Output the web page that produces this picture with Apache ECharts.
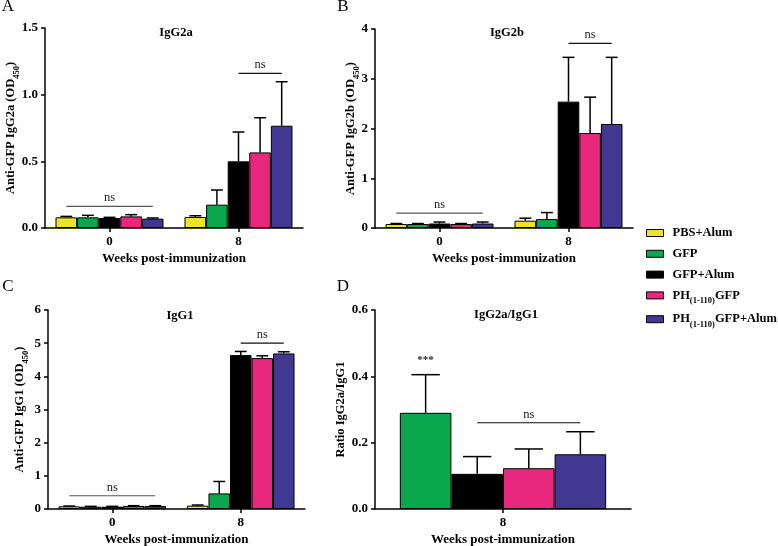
<!DOCTYPE html>
<html>
<head>
<meta charset="utf-8">
<script src="https://cdn.jsdelivr.net/npm/echarts@6/dist/echarts.min.js"></script>
<style>
  html, body { margin: 0; padding: 0; background: #fff; }
  #main { width: 778px; height: 546px; }
</style>
</head>
<body>
<div id="main"></div>
<script>
// categories
const weeks = ['0', '8']
const weeksD = ['8']
const groups = ['PBS+Alum', 'GFP', 'GFP+Alum', 'PH(1-110)GFP', 'PH(1-110)GFP+Alum']
const ratioGroups = ['GFP', 'GFP+Alum', 'PH(1-110)GFP', 'PH(1-110)GFP+Alum']

// per group: [week 0, week 8]
const igg2aMean = [[0.08, 0.083], [0.08, 0.175], [0.075, 0.50], [0.087, 0.567], [0.07, 0.767]]
const igg2aSd = [[0.007, 0.009], [0.015, 0.11], [0.005, 0.22], [0.013, 0.26], [0.005, 0.33]]
const igg2bMean = [[0.08, 0.147], [0.08, 0.18], [0.09, 2.54], [0.08, 1.91], [0.09, 2.09]]
const igg2bSd = [[0.01, 0.05], [0.01, 0.13], [0.03, 0.89], [0.01, 0.72], [0.03, 1.34]]
const igg1Mean = [[0.08, 0.10], [0.07, 0.47], [0.07, 4.64], [0.09, 4.55], [0.09, 4.69]]
const igg1Sd = [[0.01, 0.02], [0.01, 0.36], [0.01, 0.11], [0.01, 0.07], [0.01, 0.05]]
// week 8 only
const ratioMean = [0.29, 0.106, 0.123, 0.165]
const ratioSd = [0.115, 0.052, 0.058, 0.068]

// significance marks: [category, first bar, last bar, y, text]
const annotA = [[0, 0, 4, 0.162, 'ns'], [1, 2, 4, 1.16, 'ns']]
const annotB = [[0, 0, 4, 0.3, 'ns'], [1, 2, 4, 3.71, 'ns']]
const annotC = [[0, 0, 4, 0.4, 'ns'], [1, 2, 4, 5.0, 'ns']]
const annotD = [[0, 0, 0, 0.448, '***'], [0, 1, 3, 0.26, 'ns']]

const font = 'Liberation Serif'
const colors = ['#ece32a', '#0ba74c', '#000000', '#e8287c', '#433891']

const grids = [
  { left: 45, top: 28, width: 258, height: 200 },
  { left: 375, top: 29, width: 258, height: 199 },
  { left: 48, top: 310, width: 257, height: 199 },
  { left: 375, top: 310, width: 256, height: 199 }
]

const sub = { fontFamily: font, fontWeight: 'bold', fontSize: 8.5, verticalAlign: 'bottom', lineHeight: 10, padding: [0, 0, -3, 0] }

const xAxes = []
const yAxes = []
const series = []

function addPanel(idx, cats, names, cols, mean, sd, annot, ymax, step, digits, yName, nameGap, gap) {
  const n = names.length
  xAxes.push({
    type: 'category', gridIndex: idx, data: cats,
    name: 'Weeks post-immunization', nameLocation: 'middle', nameGap: 24,
    nameTextStyle: { fontFamily: font, fontWeight: 'bold', fontSize: 13, color: '#000' },
    axisLine: { show: true, lineStyle: { color: '#000', width: 1.5 } },
    axisTick: { show: true, alignWithLabel: true, length: 4, lineStyle: { color: '#000', width: 1.5 } },
    axisLabel: { fontFamily: font, fontWeight: 'bold', fontSize: 13, color: '#000', margin: 7 },
    splitLine: { show: false }
  })
  yAxes.push({
    type: 'value', gridIndex: idx, min: 0, max: ymax, interval: step,
    name: yName, nameLocation: 'middle', nameGap: nameGap, nameMoveOverlap: false,
    nameTextStyle: { fontFamily: font, fontWeight: 'bold', fontSize: 12.5, color: '#000', lineHeight: 14, rich: { sub: sub } },
    axisLine: { show: true, lineStyle: { color: '#000', width: 1.5 } },
    axisTick: { show: true, length: 4, lineStyle: { color: '#000', width: 1.5 } },
    axisLabel: { fontFamily: font, fontWeight: 'bold', fontSize: 13, color: '#000', margin: 7,
      formatter: v => v.toFixed(digits) },
    splitLine: { show: false }
  })
  const errData = []
  names.forEach((nm, k) => {
    const vals = Array.isArray(mean[k]) ? mean[k] : [mean[k]]
    const sds = Array.isArray(sd[k]) ? sd[k] : [sd[k]]
    vals.forEach((v, c) => errData.push([c, k, v, sds[c]]))
    series.push({
      type: 'bar', name: nm, xAxisIndex: idx, yAxisIndex: idx, data: vals,
      barGap: '0%', barCategoryGap: gap,
      itemStyle: { color: cols[k], borderColor: '#000', borderWidth: 1 },
      emphasis: { disabled: true }, z: 2
    })
  })
  const frac = 1 - parseFloat(gap) / 100
  // error bars (upper whisker only)
  series.push({
    type: 'custom', xAxisIndex: idx, yAxisIndex: idx, data: errData, z: 5,
    encode: { x: 0, y: 2 }, silent: true,
    renderItem: (params, api) => {
      const c = api.value(0), k = api.value(1), m = api.value(2), s = api.value(3)
      const p0 = api.coord([c, m])
      const p1 = api.coord([c, m + s])
      const bw = api.size([1, 0])[0] * frac / n
      const x = p0[0] + (k - (n - 1) / 2) * bw
      const cw = bw * 0.55
      const st = { stroke: '#000', lineWidth: 1.5 }
      return { type: 'group', children: [
        { type: 'line', shape: { x1: x, y1: p0[1], x2: x, y2: p1[1] }, style: st },
        { type: 'line', shape: { x1: x - cw / 2, y1: p1[1], x2: x + cw / 2, y2: p1[1] }, style: st }
      ] }
    }
  })
  // significance lines / labels
  series.push({
    type: 'custom', xAxisIndex: idx, yAxisIndex: idx, data: annot.map(a => a.slice(0, 4)), z: 6,
    encode: { x: 0, y: 3 }, silent: true,
    renderItem: (params, api) => {
      const a = annot[params.dataIndex]
      const p = api.coord([a[0], a[3]])
      const bw = api.size([1, 0])[0] * frac / n
      const x1 = p[0] + (a[1] - (n - 1) / 2) * bw
      const x2 = p[0] + (a[2] - (n - 1) / 2) * bw
      const stars = a[4] !== 'ns'
      const children = [{
        type: 'text', x: (x1 + x2) / 2, y: stars ? p[1] : p[1] - 2,
        style: { text: a[4], textAlign: 'center', textVerticalAlign: stars ? 'middle' : 'bottom',
          fontFamily: font, fontSize: stars ? 11 : 12.5, fontWeight: stars ? 'bold' : 'normal', fill: '#222' }
      }]
      if (x2 > x1) {
        children.push({ type: 'line', shape: { x1: x1, y1: p[1], x2: x2, y2: p[1] },
          style: { stroke: a[0] === 0 && a[2] === 4 ? '#555' : '#111', lineWidth: 1.2 } })
      }
      return { type: 'group', children: children }
    }
  })
}

addPanel(0, weeks, groups, colors, igg2aMean, igg2aSd, annotA, 1.5, 0.5, 1, 'Anti-GFP IgG2a (OD{sub|450})', 27, '16.3%')
addPanel(1, weeks, groups, colors, igg2bMean, igg2bSd, annotB, 4, 1, 0, 'Anti-GFP IgG2b (OD{sub|450})', 17, '16.3%')
addPanel(2, weeks, groups, colors, igg1Mean, igg1Sd, annotC, 6, 1, 0, 'Anti-GFP IgG1 (OD{sub|450})', 21, '16.3%')
addPanel(3, weeksD, ratioGroups, colors.slice(1), ratioMean, ratioSd, annotD, 0.6, 0.2, 1, 'Ratio IgG2a/IgG1', 27, '19.4%')

function label(text, x, y, size, weight) {
  return { type: 'text', x: x, y: y, silent: true,
    style: { text: text, textAlign: 'center', textVerticalAlign: 'middle', fontFamily: font,
      fontSize: size, fontWeight: weight, fill: '#000' } }
}

const chart = echarts.init(document.getElementById('main'), null, { renderer: 'canvas' })
chart.setOption({
  animation: false,
  backgroundColor: '#fff',
  grid: grids.map(g => Object.assign({ containLabel: false, outerBoundsMode: 'none' }, g)),
  xAxis: xAxes,
  yAxis: yAxes,
  legend: {
    data: groups, orient: 'vertical', left: 641, top: 221,
    itemWidth: 17, itemHeight: 7, itemGap: 6.8, icon: 'rect',
    itemStyle: { borderColor: '#000', borderWidth: 1 },
    selectedMode: false,
    formatter: nm => nm.replace('(1-110)', '{sub|(1-110)}'),
    textStyle: { fontFamily: font, fontWeight: 'bold', fontSize: 12.5, color: '#000', lineHeight: 14,
      padding: [0, 0, 0, 4], rich: { sub: sub } }
  },
  graphic: [
    label('A', 8, 7, 17, 'normal'),
    label('B', 343, 7, 17, 'normal'),
    label('C', 8, 287, 17, 'normal'),
    label('D', 343, 287, 17, 'normal'),
    label('IgG2a', 176, 33, 12.5, 'bold'),
    label('IgG2b', 507, 33, 12.5, 'bold'),
    label('IgG1', 180, 316, 12.5, 'bold'),
    label('IgG2a/IgG1', 506, 315, 12.5, 'bold')
  ],
  series: series
})
</script>
</body>
</html>
